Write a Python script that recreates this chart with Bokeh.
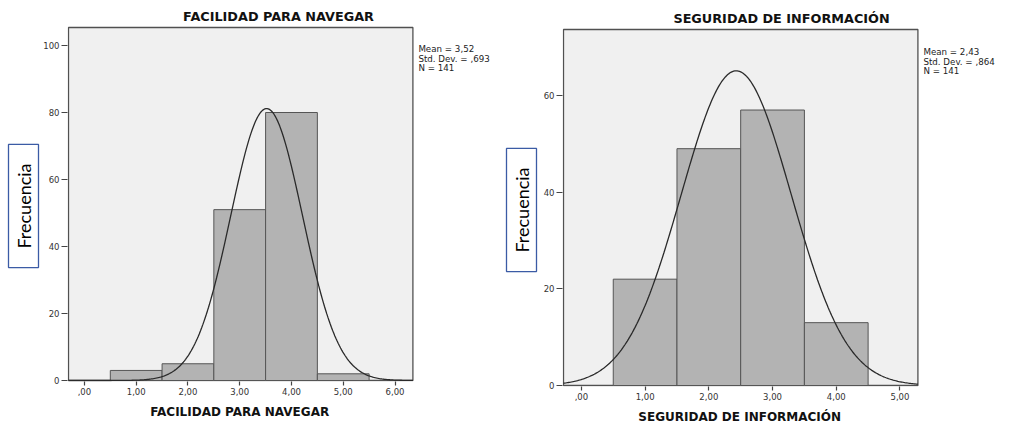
import math
from bokeh.plotting import figure
from bokeh.layouts import row, column
from bokeh.models import Label, FixedTicker, Range1d
from bokeh.embed import file_html
from bokeh.resources import INLINE

# ---- data ----
bin_edges_left = [0.5, 1.5, 2.5, 3.5, 4.5, 5.5]
counts_left = [3, 5, 51, 80, 2]
mean_left, sd_left, n_left = 3.52, 0.693, 141
xticks_left = [0, 1, 2, 3, 4, 5, 6]
xlabels_left = [",00", "1,00", "2,00", "3,00", "4,00", "5,00", "6,00"]
yticks_left = [0, 20, 40, 60, 80, 100]
title_left = "FACILIDAD PARA NAVEGAR"
stats_left = ["Mean = 3,52", "Std. Dev. = ,693", "N = 141"]

bin_edges_right = [0.5, 1.5, 2.5, 3.5, 4.5]
counts_right = [22, 49, 57, 13]
mean_right, sd_right, n_right = 2.43, 0.864, 141
xticks_right = [0, 1, 2, 3, 4, 5]
xlabels_right = [",00", "1,00", "2,00", "3,00", "4,00", "5,00"]
yticks_right = [0, 20, 40, 60]
title_right = "SEGURIDAD DE INFORMACIÓN"
stats_right = ["Mean = 2,43", "Std. Dev. = ,864", "N = 141"]

ylabel = "Frecuencia"

FONT = "DejaVu Sans"


def text_panel(W, H, text, cx, cy, angle=0.0, boxed=False, border_left=0, **kw):
    """A bare figure holding one text label; data units equal canvas pixels."""
    p = figure(width=W, height=H, output_backend="svg", toolbar_location=None,
               x_range=Range1d(border_left, W), y_range=Range1d(0, H),
               x_axis_type=None, y_axis_type=None, min_border=0,
               min_border_left=border_left)
    p.outline_line_color = None
    p.background_fill_color = "white"
    p.border_fill_color = "white"
    p.grid.visible = False
    extra = {}
    if boxed:
        extra = dict(border_line_color="#3B5BA5", border_line_width=1.3, padding=(19, 4))
    p.add_layout(Label(x=cx, y=H - cy, text=text, angle=angle, text_align="center",
                       text_baseline="middle", **kw, **extra))
    return p


def make_chart(W, H, L, R, T, B, x_at_L, xppu, yppu, edges, counts, mean, sd, n,
               xticks, xlabels, yticks, title, stats, title_cx, title_cy, stats_dy):
    # frame covers the plot area plus the space to its right and above
    FL, FB = L - 1, B + 1

    def dx(px):
        return x_at_L + (px - L) / xppu

    def dy(py):
        return (B - py) / yppu

    p = figure(width=W, height=H, output_backend="svg", toolbar_location=None,
               x_range=Range1d(dx(FL), dx(W)), y_range=Range1d(dy(FB), dy(0)),
               min_border_left=FL, min_border_right=0,
               min_border_top=0, min_border_bottom=H - FB)
    p.background_fill_color = "white"
    p.border_fill_color = "white"
    p.outline_line_color = None
    p.grid.visible = False

    px0, px1, py1 = dx(L), dx(R), dy(T)
    # plot area
    p.quad(left=[px0], right=[px1], bottom=[0], top=[py1],
           fill_color="#F0F0F0", line_color="#505050", line_width=1.3)

    # bars
    p.quad(left=edges[:-1], right=edges[1:], bottom=0, top=counts,
           fill_color="#B3B3B3", line_color="#555555", line_width=1)

    # fitted normal curve (from the stated mean / sd)
    steps = 300
    xs = [px0 + (px1 - px0) * i / steps for i in range(steps + 1)]
    ys = [n / (sd * math.sqrt(2 * math.pi)) * math.exp(-0.5 * ((x - mean) / sd) ** 2) for x in xs]
    p.line(xs, ys, line_color="#2A2A2A", line_width=1.3)

    # axes
    for ax in (p.xaxis[0], p.yaxis[0]):
        ax.axis_line_color = None
        ax.major_tick_line_color = "#444444"
        ax.major_tick_line_width = 1.2
        ax.major_tick_in = 0
        ax.minor_tick_line_color = None
        ax.major_label_text_font = FONT
        ax.major_label_text_font_size = "8.5px"
        ax.major_label_text_color = "#333333"
    p.xaxis[0].ticker = FixedTicker(ticks=xticks)
    p.xaxis[0].major_label_overrides = {t: l for t, l in zip(xticks, xlabels)}
    p.xaxis[0].major_tick_out = 4
    p.xaxis[0].major_label_standoff = 2
    p.yaxis[0].ticker = FixedTicker(ticks=yticks)
    p.yaxis[0].major_tick_out = 6
    p.yaxis[0].major_label_standoff = 2

    # title (inside the wide frame, above the plot area)
    p.add_layout(Label(x=dx(title_cx), y=dy(title_cy), text=title, text_align="center",
                       text_baseline="middle", text_font=FONT, text_font_style="bold",
                       text_font_size="12.8px", text_color="#111111"))
    # stats (inside the wide frame, right of the plot area)
    for i, s in enumerate(stats):
        p.add_layout(Label(x=dx(R + 5.5), y=dy(T + stats_dy + i * 9.6), text=s, text_align="left",
                           text_baseline="middle", text_font=FONT,
                           text_font_size="8.7px", text_color="#222222"))
    return p


xl_kw = dict(text_font=FONT, text_font_style="bold", text_font_size="12px", text_color="#111111")
box_kw = dict(text_font="Lato", text_font_size="18px", text_color="#000000")

# left block: window x 0..500
box_left = text_panel(40, 423, ylabel, 23, 205.5, angle=math.pi / 2, boxed=True, **box_kw)
chart_left = make_chart(460, 400, 26, 372, 27, 380, -0.308, 52.0, 3.35,
                        bin_edges_left, counts_left, mean_left, sd_left, n_left,
                        xticks_left, xlabels_left, yticks_left, title_left, stats_left,
                        title_cx=237, title_cy=16, stats_dy=21.5)
xlab_left = text_panel(460, 23, title_left, 198, 11, border_left=25, **xl_kw)

# right block: window x 500..1009
box_right = text_panel(40, 423, ylabel, 21, 209.5, angle=math.pi / 2, boxed=True, **box_kw)
chart_right = make_chart(469, 404, 21, 377, 29, 385, -0.281, 64.0, 4.833,
                         bin_edges_right, counts_right, mean_right, sd_right, n_right,
                         xticks_right, xlabels_right, yticks_right, title_right, stats_right,
                         title_cx=240, title_cy=18, stats_dy=22.7)
xlab_right = text_panel(469, 19, title_right, 198, 12, border_left=20, **xl_kw)

layout = row(box_left, column(chart_left, xlab_left, spacing=0),
             box_right, column(chart_right, xlab_right, spacing=0), spacing=0)
open("out.html", "w").write(file_html(layout, INLINE))
